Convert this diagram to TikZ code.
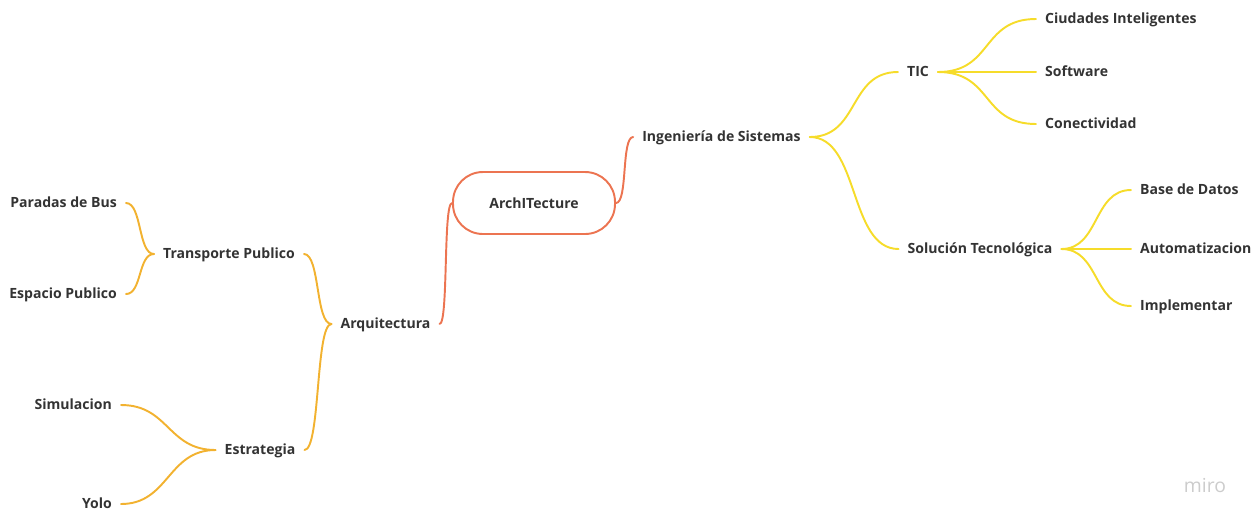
\documentclass[tikz,border=0pt]{standalone}
\usepackage{fontspec}
\setmainfont{Open Sans}
\usepackage{xcolor}
\usepackage{tikz}
\usetikzlibrary{positioning,calc}

\definecolor{txtgray}{HTML}{333333}
\definecolor{archred}{HTML}{EC7451}
\definecolor{leftorange}{HTML}{F2B230}
\definecolor{rightyellow}{HTML}{F6DC2A}

\begin{document}
\begin{tikzpicture}[
  x=0.02cm, y=-0.02cm,
  topic/.style={inner xsep=5pt, inner ysep=2pt, text height=0.72em, text depth=0.22em, font=\fontsize{8}{9}\selectfont\bfseries, text=txtgray},
  central/.style={rectangle, draw=archred, line width=1.1pt, rounded corners=17pt, minimum width=3.24cm, minimum height=1.24cm, font=\fontsize{8}{9}\selectfont\bfseries, text=txtgray},
  leftline/.style={draw=leftorange, line width=1.1pt, line cap=round},
  redline/.style={draw=archred, line width=1.1pt, line cap=round},
  rightline/.style={draw=rightyellow, line width=1.1pt, line cap=round}
]
\useasboundingbox (0,0) rectangle (1260,512);

% centre
\node[central] (arch) at (534,203) {ArchITecture};

% left side
\node[topic] (arq) at (385.5,324) {Arquitectura};
\node[topic] (transp) at (229,254) {Transporte Publico};
\node[topic] (estr) at (260,450) {Estrategia};
\node[topic, anchor=east] (paradas) at (126,203) {Paradas de Bus};
\node[topic, anchor=east] (espacio) at (126,294) {Espacio Publico};
\node[topic, anchor=east] (simul) at (121,405) {Simulacion};
\node[topic, anchor=east] (yolo) at (121,504) {Yolo};

% right side
\node[topic] (ing) at (721.5,137) {Ingeniería de Sistemas};
\node[topic] (tic) at (918,72) {TIC};
\node[topic] (sol) at (980,249) {Solución Tecnológica};
\node[topic, anchor=west] (ciud) at (1036,19) {Ciudades Inteligentes};
\node[topic, anchor=west] (soft) at (1036,72) {Software};
\node[topic, anchor=west] (conec) at (1036,124) {Conectividad};
\node[topic, anchor=west] (bdatos) at (1131,190) {Base de Datos};
\node[topic, anchor=west] (autom) at (1131,249) {Automatizacion};
\node[topic, anchor=west] (implem) at (1131,306) {Implementar};

% connectors
\draw[redline] (arq.east) .. controls +(9,0) and +(-9,0) .. (arch.west);
\draw[redline] (arch.east) .. controls +(12,0) and +(-12,0) .. (ing.west);

\draw[leftline] (transp.east) .. controls +(16,0) and +(-16,0) .. (arq.west);
\draw[leftline] (estr.east) .. controls +(16,0) and +(-16,0) .. (arq.west);
\draw[leftline] (paradas.east) .. controls +(16,0) and +(-16,0) .. (transp.west);
\draw[leftline] (espacio.east) .. controls +(16,0) and +(-16,0) .. (transp.west);
\draw[leftline] (simul.east) .. controls +(48,0) and +(-48,0) .. (estr.west);
\draw[leftline] (yolo.east) .. controls +(48,0) and +(-48,0) .. (estr.west);

\draw[rightline] (ing.east) .. controls +(50,0) and +(-50,0) .. (tic.west);
\draw[rightline] (ing.east) .. controls +(50,0) and +(-50,0) .. (sol.west);
\draw[rightline] (tic.east) .. controls +(55,0) and +(-55,0) .. (ciud.west);
\draw[rightline] (tic.east) -- (soft.west);
\draw[rightline] (tic.east) .. controls +(55,0) and +(-55,0) .. (conec.west);
\draw[rightline] (sol.east) .. controls +(38,0) and +(-38,0) .. (bdatos.west);
\draw[rightline] (sol.east) -- (autom.west);
\draw[rightline] (sol.east) .. controls +(38,0) and +(-38,0) .. (implem.west);

\node[text=gray!40, font=\fontsize{11}{12}\selectfont] (miro) at (1205,485) {miro};
\end{tikzpicture}
\end{document}
